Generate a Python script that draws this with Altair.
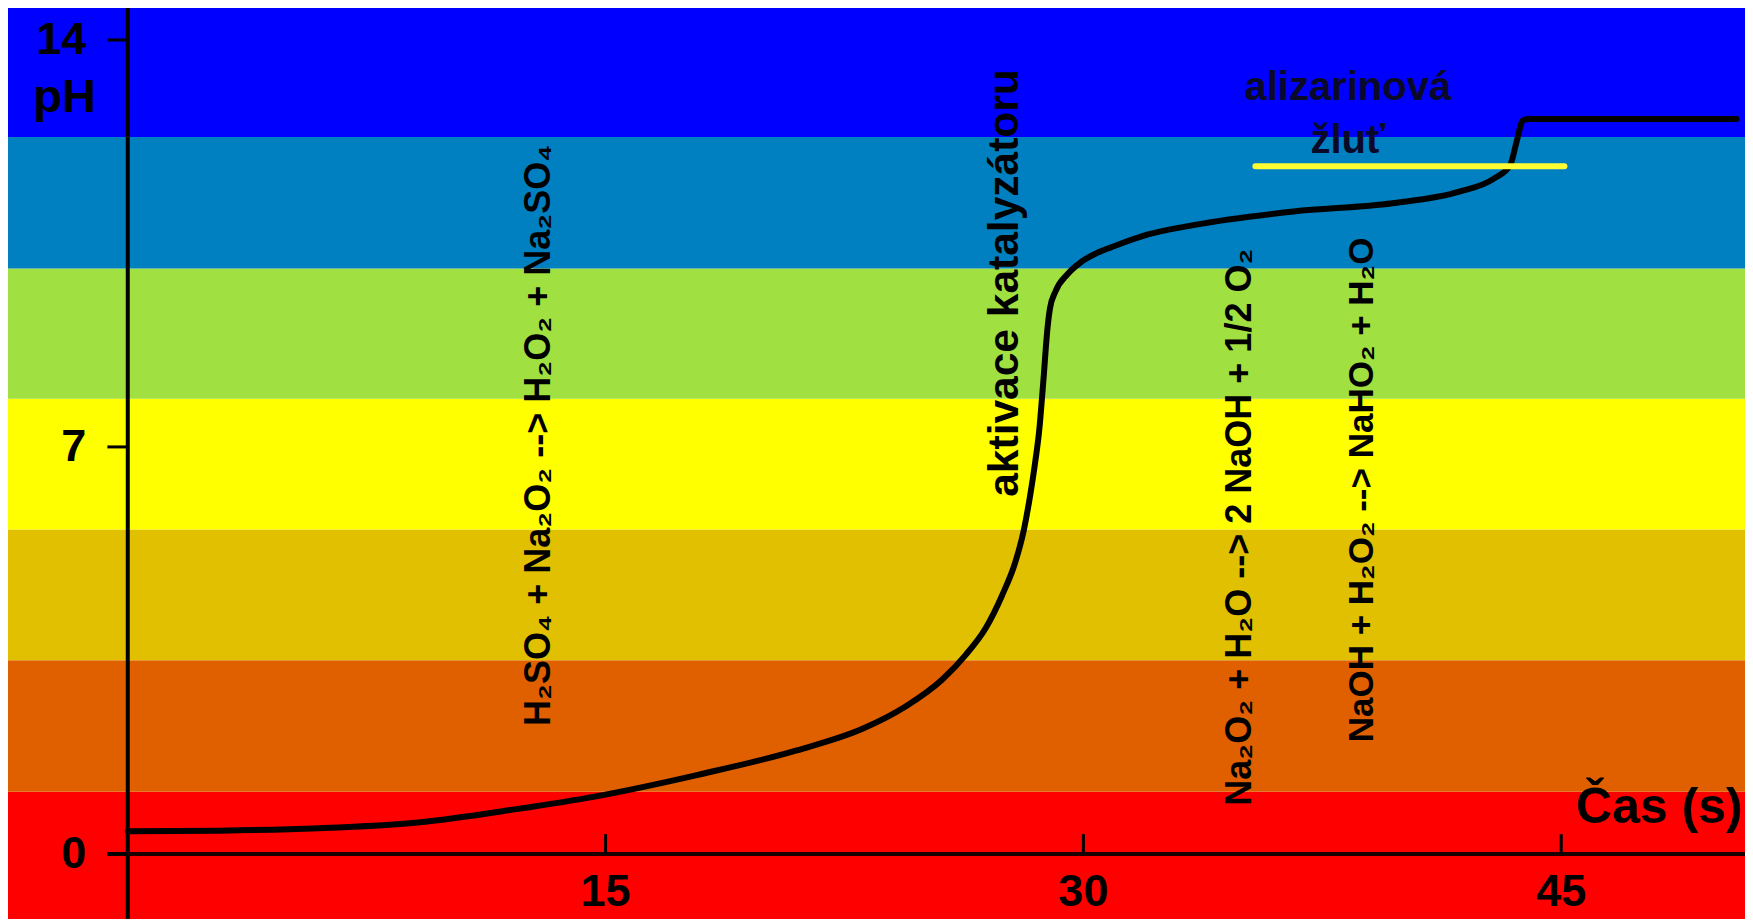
import altair as alt
import pandas as pd

# ---------------- data ----------------
# pH colour bands (bottom -> top)
band_low = [-1.12, 1.07, 3.33, 5.58, 7.83, 10.07, 12.33]
band_high = [1.07, 3.33, 5.58, 7.83, 10.07, 12.33, 14.55]
band_color = ["#FF0000", "#E06000", "#E0C000", "#FFFF00", "#A0E040", "#0080C0", "#0000FF"]

# titration curve: time (s) vs pH
time_s = [0.0, 2.9, 6.0, 9.1, 12.2, 14.7, 17.9, 21.0, 23.1, 24.43, 25.57, 26.3, 26.93,
          27.45, 27.87, 28.13, 28.33, 28.49, 28.62, 28.70, 28.76, 28.82, 28.88, 28.95,
          29.12, 29.5, 29.95, 30.4, 31.0, 32.0, 33.5, 36.6, 39.7, 41.8, 42.9, 43.4,
          43.6, 43.8, 44.0, 50.5]
ph_value = [0.39, 0.40, 0.44, 0.54, 0.77, 0.99, 1.36, 1.78, 2.16, 2.54, 3.0, 3.42, 3.88,
            4.45, 5.03, 5.57, 6.17, 6.75, 7.32, 7.84, 8.25, 8.7, 9.08, 9.38,
            9.67, 9.97, 10.19, 10.33, 10.46, 10.65, 10.82, 11.05, 11.19, 11.39, 11.62, 11.85,
            12.25, 12.62, 12.64, 12.64]

x_tick_values = [15, 30, 45]
x_tick_labels = ["15", "30", "45"]
y_tick_values = [0, 7, 14]
y_tick_labels = ["0", "7", "14"]

# indicator (alizarin yellow) transition line
indicator_lines = ["alizarinová", "žluť"]
indicator_text_t = [38.3, 38.3]
indicator_text_ph = [13.18, 12.27]
indicator_start = [35.4]
indicator_end = [45.1]
indicator_ph = [11.83]

# rotated reaction annotations
reaction_text = ["H₂SO₄ + Na₂O₂ --> H₂O₂ + Na₂SO₄",
                 "aktivace katalyzátoru",
                 "Na₂O₂ + H₂O --> 2 NaOH + 1/2 O₂",
                 "NaOH + H₂O₂ --> NaHO₂ + H₂O"]
reaction_t = [12.9, 27.55, 34.93, 38.74]
reaction_ph = [7.2, 9.82, 5.62, 6.26]
reaction_size = [36, 42.5, 36, 35]

X_DOM = [-3.76, 50.77]
Y_DOM = [-1.12, 14.55]

REG = "Liberation Sans, Arial, sans-serif"

xs = alt.Scale(domain=X_DOM, nice=False, zero=False)
ys = alt.Scale(domain=Y_DOM, nice=False, zero=False)

# ---------------- layers ----------------
bands = pd.DataFrame({"lo": band_low, "hi": band_high, "c": band_color})
band_layer = alt.Chart(bands).mark_rect().encode(
    y=alt.Y("lo:Q", scale=ys, axis=None),
    y2="hi:Q",
    color=alt.Color("c:N", scale=None, legend=None),
)

y_axis_line = alt.Chart(pd.DataFrame({"t": [0]})).mark_rule(
    color="black", strokeWidth=4
).encode(x=alt.X("t:Q", scale=xs, axis=None))

x_axis_line = alt.Chart(pd.DataFrame({"t0": [-0.64], "t1": [X_DOM[1]], "p": [0]})).mark_rule(
    color="#1a0000", strokeWidth=4
).encode(
    x=alt.X("t0:Q", scale=xs, axis=None), x2="t1:Q",
    y=alt.Y("p:Q", scale=ys, axis=None),
)

y_ticks = alt.Chart(pd.DataFrame({"p": y_tick_values, "t0": [-0.64] * 3, "t1": [0] * 3})).mark_rule(
    color="black", strokeWidth=3
).encode(
    x=alt.X("t0:Q", scale=xs, axis=None), x2="t1:Q",
    y=alt.Y("p:Q", scale=ys, axis=None),
)

x_ticks = alt.Chart(pd.DataFrame({"t": x_tick_values, "p0": [0] * 3, "p1": [0.34] * 3})).mark_rule(
    color="black", strokeWidth=3
).encode(
    x=alt.X("t:Q", scale=xs, axis=None),
    y=alt.Y("p0:Q", scale=ys, axis=None), y2="p1:Q",
)

y_labels = alt.Chart(pd.DataFrame({"p": y_tick_values, "lab": y_tick_labels, "t": [-1.3] * 3})).mark_text(
    font=REG, fontWeight="bold", fontSize=45, align="right", baseline="middle", color="black"
).encode(
    x=alt.X("t:Q", scale=xs, axis=None),
    y=alt.Y("p:Q", scale=ys, axis=None),
    text="lab:N",
)

x_labels = alt.Chart(pd.DataFrame({"t": x_tick_values, "lab": x_tick_labels, "p": [-0.66] * 3})).mark_text(
    font=REG, fontWeight="bold", fontSize=45, align="center", baseline="middle", color="black"
).encode(
    x=alt.X("t:Q", scale=xs, axis=None),
    y=alt.Y("p:Q", scale=ys, axis=None),
    text="lab:N",
)

ph_title = alt.Chart(pd.DataFrame({"t": [-1.98], "p": [13.01], "lab": ["pH"]})).mark_text(
    font=REG, fontWeight="bold", fontSize=47, align="center", baseline="middle", color="black"
).encode(
    x=alt.X("t:Q", scale=xs, axis=None),
    y=alt.Y("p:Q", scale=ys, axis=None),
    text="lab:N",
)

time_title = alt.Chart(pd.DataFrame({"t": [50.7], "p": [0.79], "lab": ["Čas (s)"]})).mark_text(
    font=REG, fontWeight="bold", fontSize=50, align="right", baseline="middle", color="black"
).encode(
    x=alt.X("t:Q", scale=xs, axis=None),
    y=alt.Y("p:Q", scale=ys, axis=None),
    text="lab:N",
)

curve = alt.Chart(pd.DataFrame({"t": time_s, "ph": ph_value})).mark_line(
    color="black", strokeWidth=6, interpolate="monotone", strokeCap="round", strokeJoin="round"
).encode(
    x=alt.X("t:Q", scale=xs, axis=None),
    y=alt.Y("ph:Q", scale=ys, axis=None),
)

indicator_line = alt.Chart(pd.DataFrame({"t0": indicator_start, "t1": indicator_end, "p": indicator_ph})).mark_rule(
    color="#FFFF33", strokeWidth=6, strokeCap="round"
).encode(
    x=alt.X("t0:Q", scale=xs, axis=None), x2="t1:Q",
    y=alt.Y("p:Q", scale=ys, axis=None),
)

indicator_text = alt.Chart(pd.DataFrame({"t": indicator_text_t, "p": indicator_text_ph, "lab": indicator_lines})).mark_text(
    font=REG, fontWeight="bold", fontSize=40, align="center", baseline="middle", color="#0a0a28"
).encode(
    x=alt.X("t:Q", scale=xs, axis=None),
    y=alt.Y("p:Q", scale=ys, axis=None),
    text="lab:N",
)

react_df = pd.DataFrame({"t": reaction_t, "p": reaction_ph, "lab": reaction_text, "s": reaction_size})
reactions = alt.Chart(react_df).mark_text(
    font=REG, fontWeight="bold", angle=270, align="center", baseline="middle", color="black"
).encode(
    x=alt.X("t:Q", scale=xs, axis=None),
    y=alt.Y("p:Q", scale=ys, axis=None),
    text="lab:N",
    size=alt.Size("s:Q", scale=None, legend=None),
)

chart = alt.layer(
    band_layer, y_axis_line, x_axis_line, y_ticks, x_ticks, y_labels, x_labels,
    ph_title, time_title, curve, indicator_line, indicator_text, reactions,
).properties(
    width=1737, height=911, padding=0, background="#ffffff",
    autosize=alt.AutoSizeParams(type="none"),
).configure_view(stroke=None)

chart.save("out.html", embed_options={"renderer": "svg", "actions": False})
